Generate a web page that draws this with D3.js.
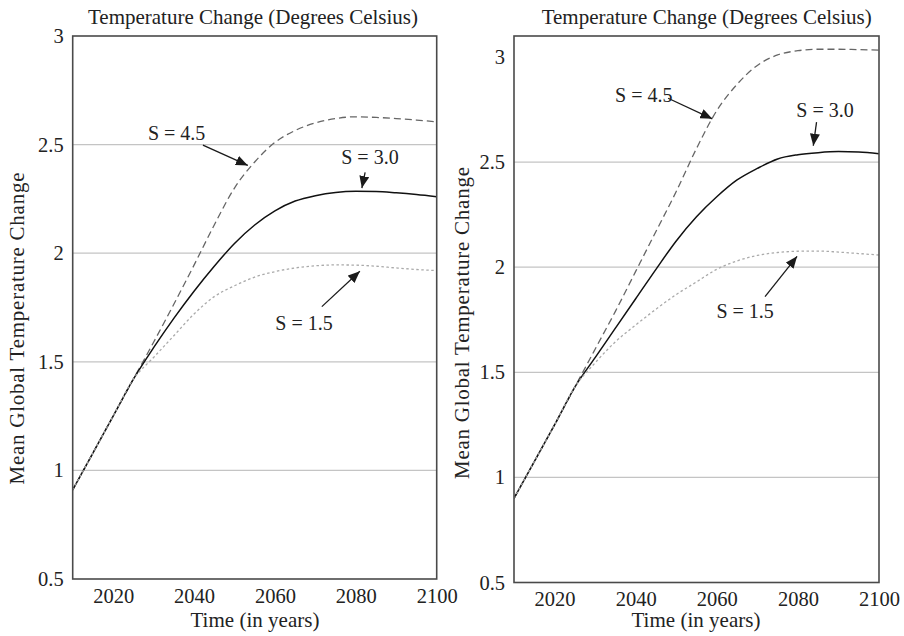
<!DOCTYPE html>
<html>
<head>
<meta charset="utf-8">
<script src="https://cdn.jsdelivr.net/npm/d3@7"></script>
<style>
  html, body { margin: 0; padding: 0; background: #fff; }
  svg { display: block; }
  text { font-family: "Liberation Serif", "Times New Roman", serif; fill: #222; }
</style>
</head>
<body>
<svg id="chart" width="904" height="636"></svg>
<script>
// ---------------- data ----------------
const years = [2010, 2015, 2020, 2025, 2030, 2035, 2040, 2045, 2050, 2055, 2060, 2065, 2070, 2075, 2080, 2085, 2090, 2095, 2100];

// left panel
const leftS45 = [0.91, 1.08, 1.25, 1.42, 1.59, 1.765, 1.945, 2.13, 2.30, 2.42, 2.51, 2.565, 2.60, 2.62, 2.628, 2.625, 2.62, 2.613, 2.605];
const leftS30 = [0.91, 1.08, 1.25, 1.42, 1.565, 1.70, 1.825, 1.94, 2.045, 2.13, 2.195, 2.24, 2.265, 2.28, 2.285, 2.284, 2.278, 2.27, 2.26];
const leftS15 = [0.91, 1.08, 1.25, 1.42, 1.52, 1.62, 1.72, 1.80, 1.85, 1.89, 1.915, 1.932, 1.942, 1.946, 1.945, 1.94, 1.932, 1.925, 1.92];

// right panel
const rightS45 = [0.9, 1.075, 1.25, 1.43, 1.61, 1.79, 1.98, 2.17, 2.36, 2.565, 2.745, 2.87, 2.96, 3.01, 3.03, 3.037, 3.037, 3.035, 3.033];
const rightS30 = [0.9, 1.075, 1.25, 1.43, 1.57, 1.71, 1.85, 1.99, 2.125, 2.24, 2.335, 2.415, 2.47, 2.515, 2.535, 2.545, 2.55, 2.548, 2.54];
const rightS15 = [0.9, 1.075, 1.25, 1.43, 1.545, 1.645, 1.725, 1.80, 1.87, 1.93, 1.99, 2.03, 2.056, 2.07, 2.076, 2.077, 2.072, 2.065, 2.058];

const seriesNames = ["S = 4.5", "S = 3.0", "S = 1.5"];
const xTickValues = [2020, 2040, 2060, 2080, 2100];
const yTickValues = [0.5, 1, 1.5, 2, 2.5, 3];
const gridValues = [1, 1.5, 2, 2.5];

const titleText = "Temperature Change (Degrees Celsius)";
const xLabelText = "Time (in years)";
const yLabelText = "Mean Global Temperature Change";

// annotation anchors in data units: label position, arrow start, arrow tip
const leftNotes = [
  { label: "S = 4.5", tx: 2035.7, ty: 2.521, x1: 2042.2, y1: 2.498, x2: 2053.3, y2: 2.404 },
  { label: "S = 3.0", tx: 2083.5, ty: 2.411, x1: 2082.3, y1: 2.372, x2: 2081.5, y2: 2.300 },
  { label: "S = 1.5", tx: 2067.2, ty: 1.646, x1: 2071.6, y1: 1.754, x2: 2081.0, y2: 1.917 }
];
const rightNotes = [
  { label: "S = 4.5", tx: 2042.0, ty: 2.785, x1: 2048.0, y1: 2.804, x2: 2058.9, y2: 2.706 },
  { label: "S = 3.0", tx: 2086.7, ty: 2.716, x1: 2084.6, y1: 2.690, x2: 2083.8, y2: 2.578 },
  { label: "S = 1.5", tx: 2067.0, ty: 1.757, x1: 2071.9, y1: 1.860, x2: 2079.8, y2: 2.052 }
];

// ---------------- drawing ----------------
const svg = d3.select("#chart");

const defs = svg.append("defs");
defs.append("marker")
  .attr("id", "arrowhead")
  .attr("viewBox", "0 0 12 10")
  .attr("refX", 12).attr("refY", 5)
  .attr("markerWidth", 12).attr("markerHeight", 10)
  .attr("markerUnits", "userSpaceOnUse")
  .attr("orient", "auto")
  .append("path")
  .attr("d", "M0,0 L12,5 L0,10 Z")
  .attr("fill", "#1a1a1a");

const seriesStyles = [
  { stroke: "#666", width: 1.3, dash: "7,4" },
  { stroke: "#111", width: 1.5, dash: null },
  { stroke: "#aaa", width: 1.3, dash: "2.5,2.5" }
];

function drawPanel(cfg) {
  const x = d3.scaleLinear().domain([2010, 2100]).range([cfg.left, cfg.right]);
  const y = d3.scaleLinear().domain(cfg.yDomain).range([cfg.bottom, cfg.top]);
  const g = svg.append("g");

  // gridlines
  g.append("g").selectAll("line").data(gridValues).join("line")
    .attr("x1", cfg.left).attr("x2", cfg.right)
    .attr("y1", d => y(d)).attr("y2", d => y(d))
    .attr("stroke", "#c4c4c4").attr("stroke-width", 1.3);

  // y axis labels (no tick marks)
  const yAxis = d3.axisLeft(y).tickValues(yTickValues).tickSize(0).tickPadding(9).tickFormat(d3.format("~g"));
  const ya = g.append("g").attr("transform", `translate(${cfg.left},0)`).call(yAxis);
  ya.select(".domain").remove();
  ya.selectAll("text").attr("font-size", 20.5).attr("fill", "#222");

  // x axis labels
  const xAxis = d3.axisBottom(x).tickValues(xTickValues).tickSize(0).tickPadding(9).tickFormat(d3.format("d"));
  const xa = g.append("g").attr("transform", `translate(0,${cfg.bottom})`).call(xAxis);
  xa.select(".domain").remove();
  xa.selectAll("text").attr("font-size", 20.5).attr("fill", "#222");

  // lines
  const line = d3.line().x((d, i) => x(years[i])).y(d => y(d)).curve(d3.curveMonotoneX);
  const clipId = "clip" + cfg.id;
  defs.append("clipPath").attr("id", clipId).append("rect")
    .attr("x", cfg.left).attr("y", cfg.top).attr("width", cfg.right - cfg.left).attr("height", cfg.bottom - cfg.top);
  const lg = g.append("g").attr("clip-path", `url(#${clipId})`);
  cfg.series.forEach((vals, i) => {
    const st = seriesStyles[i];
    lg.append("path").datum(vals)
      .attr("d", line)
      .attr("fill", "none")
      .attr("stroke", st.stroke)
      .attr("stroke-width", st.width)
      .attr("stroke-dasharray", st.dash);
  });

  // frame
  g.append("rect")
    .attr("x", cfg.left).attr("y", cfg.top)
    .attr("width", cfg.right - cfg.left).attr("height", cfg.bottom - cfg.top)
    .attr("fill", "none").attr("stroke", "#4a4a4a").attr("stroke-width", 1.6);

  // annotations
  cfg.notes.forEach(n => {
    g.append("line")
      .attr("x1", x(n.x1)).attr("y1", y(n.y1))
      .attr("x2", x(n.x2)).attr("y2", y(n.y2))
      .attr("stroke", "#1a1a1a").attr("stroke-width", 1.3)
      .attr("marker-end", "url(#arrowhead)");
    g.append("text")
      .attr("x", x(n.tx)).attr("y", y(n.ty))
      .attr("text-anchor", "middle")
      .attr("font-size", 20)
      .text(n.label);
  });

  // titles
  g.append("text").attr("x", cfg.titleX).attr("y", 24)
    .attr("text-anchor", "middle").attr("font-size", 21)
    .attr("textLength", 330).attr("lengthAdjust", "spacing")
    .text(titleText);
  g.append("text").attr("x", cfg.xLabelX).attr("y", 627)
    .attr("text-anchor", "middle").attr("font-size", 21)
    .attr("textLength", 129).attr("lengthAdjust", "spacing")
    .text(xLabelText);
  g.append("text")
    .attr("transform", `translate(${cfg.yLabelX},${cfg.yLabelY}) rotate(-90)`)
    .attr("text-anchor", "middle").attr("font-size", 21)
    .attr("textLength", 312).attr("lengthAdjust", "spacing")
    .text(yLabelText);
}

drawPanel({
  id: "L", left: 72.7, right: 436.7, top: 36, bottom: 579, yDomain: [0.5, 3],
  series: [leftS45, leftS30, leftS15], notes: leftNotes,
  titleX: 253, xLabelX: 255, yLabelX: 24, yLabelY: 328.5
});
drawPanel({
  id: "R", left: 514, right: 879, top: 36, bottom: 582.5, yDomain: [0.5, 3.1],
  series: [rightS45, rightS30, rightS15], notes: rightNotes,
  titleX: 706.7, xLabelX: 696, yLabelX: 469, yLabelY: 323
});
</script>
</body>
</html>
